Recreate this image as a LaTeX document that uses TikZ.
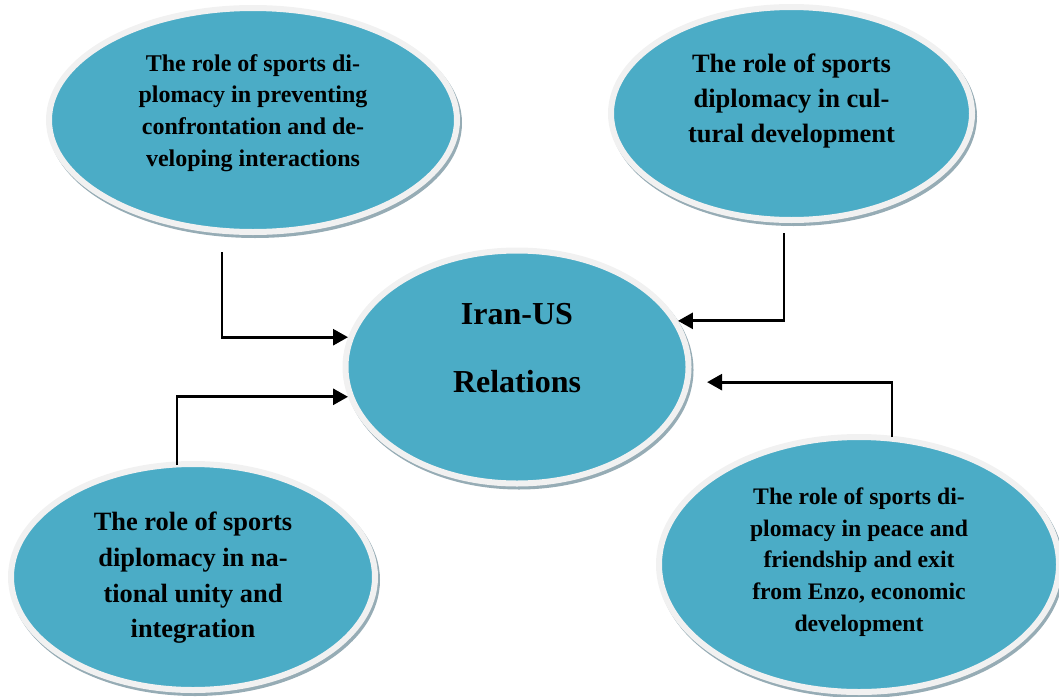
\documentclass[tikz,border=0pt]{standalone}
\usepackage{fontspec}
\setmainfont{Liberation Serif}
\usepackage{tikz}
\usetikzlibrary{shapes.geometric,shadows}
\usetikzlibrary{arrows.meta,positioning}
\definecolor{aqua}{RGB}{75,172,198}
\definecolor{rim}{RGB}{241,241,241}
\definecolor{rimshadow}{RGB}{150,172,181}
\newcommand\blurb[2]{\raisebox{0pt}[\height][\dimexpr\depth+#1\relax]{\begin{tabular}{@{}c@{}}#2\end{tabular}}}
\newcommand\sz[2]{\fontsize{#1}{#2}\selectfont\bfseries}

\begin{document}
\begin{tikzpicture}[x=1pt,y=-1pt,
    bubble/.style={ellipse, fill=aqua, draw=rim, line width=6pt, inner sep=0pt,
      drop shadow={shadow xshift=2pt, shadow yshift=-3pt, fill=rimshadow, draw=rimshadow, line width=6pt, opacity=1}},
    link/.style={line width=2.8pt, -{Triangle[length=15pt,width=16pt]}}]
\useasboundingbox (0,0) rectangle (1059,696);

\node[bubble, minimum width=408, minimum height=224, font=\sz{24}{31.7}] (tl) at (253,120)
  {\blurb{15pt}{The role of sports di-\\plomacy in preventing\\confrontation and de-\\veloping interactions}};
\node[bubble, minimum width=361, minimum height=213, font=\sz{26.5}{35}] (tr) at (791.5,113.5)
  {\blurb{27pt}{The role of sports\\diplomacy in cul-\\tural development}};
\node[bubble, minimum width=343, minimum height=233, font=\sz{32}{40}] (iran) at (517,367)
  {\blurb{34pt}{Iran-US\\[28pt]Relations}};
\node[bubble, minimum width=364, minimum height=226, font=\sz{26.4}{35.7}] (bl) at (193,577)
  {\blurb{0pt}{The role of sports\\diplomacy in na-\\tional unity and\\integration}};
\node[bubble, minimum width=400, minimum height=255, font=\sz{23.7}{31.75}] (br) at (859,564.5)
  {\blurb{6pt}{The role of sports di-\\plomacy in peace and\\friendship and exit\\from Enzo, economic\\development}};

\coordinate (tlfoot) at (222,252);
\coordinate (blhead) at (177,465);
\coordinate (trfoot) at (784,233);
\coordinate (brhead) at (892,437);

\draw[link] (tlfoot) |- (iran.170);
\draw[link] (blhead) |- (iran.190);
\draw[link] (trfoot) |- (iran.16);
\draw[link] (brhead) |- ([xshift=17pt]iran.355);
\end{tikzpicture}
\end{document}
